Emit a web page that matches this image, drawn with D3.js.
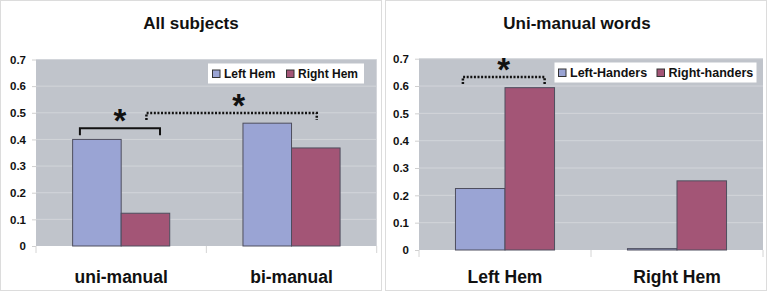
<!DOCTYPE html>
<html>
<head>
<meta charset="utf-8">
<script src="https://cdn.jsdelivr.net/npm/d3@7"></script>
<style>
  body { margin: 0; background: #fff; }
  text { font-family: "Liberation Sans", Arial, sans-serif; font-weight: bold; fill: #111; }
</style>
</head>
<body>
<div id="chart"></div>
<script>
// data
let allCategories = ['uni-manual', 'bi-manual'];
let allSeries = ['Left Hem', 'Right Hem'];
let allValues = [
  [0.40, 0.123],   // uni-manual
  [0.461, 0.368]   // bi-manual
];

let uniCategories = ['Left Hem', 'Right Hem'];
let uniSeries = ['Left-Handers', 'Right-handers'];
let uniValues = [
  [0.225, 0.594],  // Left Hem
  [0.005, 0.253]   // Right Hem
];

let yTicks = [0, 0.1, 0.2, 0.3, 0.4, 0.5, 0.6, 0.7];

// significance brackets: between two bars, at a value level
let allSig = [
  {a: [0, 0], b: [0, 1], level: 0.442, dotted: false},
  {a: [0, 1], b: [1, 1], level: 0.499, dotted: true, mid: true}
];
let uniSig = [
  {a: [0, 0], b: [0, 1], level: 0.633, dotted: true}
];

let colors = ['#9aa4d4', '#a35576'];

let svg = d3.select('#chart')
  .append('svg')
    .attr('width', 768)
    .attr('height', 292);

function drawPanel(p) {
  // panel frame
  svg.append('rect')
    .attr('x', p.frame[0] + 0.5).attr('y', 0.5)
    .attr('width', p.frame[1] - p.frame[0]).attr('height', 290)
    .attr('fill', '#fff')
    .attr('stroke', '#dcdcdc');

  let x = d3.scaleBand()
    .domain(p.categories)
    .range([p.left, p.right])
    .paddingInner(p.pad)
    .paddingOuter(p.pad / 2);

  let xs = d3.scaleBand()
    .domain(d3.range(p.series.length))
    .range([0, x.bandwidth()]);

  let y = d3.scaleLinear()
    .domain([0, 0.7])
    .range([p.bottom, p.top]);

  // plot area
  svg.append('rect')
    .attr('x', p.left).attr('y', p.top)
    .attr('width', p.right - p.left).attr('height', p.bottom - p.top)
    .attr('fill', '#c0c4cb');

  // gridlines
  svg.append('g')
    .selectAll('line')
    .data(yTicks.slice(1))
    .enter()
    .append('line')
      .attr('x1', p.left).attr('x2', p.right)
      .attr('y1', d => y(d)).attr('y2', d => y(d))
      .attr('stroke', '#d2d5da')
      .attr('stroke-width', 1);

  // y axis
  let yAxis = svg.append('g')
    .attr('transform', 'translate(' + p.left + ',0)')
    .call(d3.axisLeft(y).tickValues(yTicks).tickSize(4).tickPadding(6)
      .tickFormat(d => d === 0 ? '0' : d.toFixed(1)));
  yAxis.select('.domain').remove();
  yAxis.selectAll('line').attr('stroke', '#d0d0d0');
  yAxis.selectAll('text')
    .style('font-size', '11.5px')
    .style('font-family', '"Liberation Sans", Arial, sans-serif')
    .style('font-weight', 'bold')
    .attr('fill', '#111');

  // category boundary ticks under the axis
  let bounds = p.categories.map(c => x(c) - x.step() * x.paddingInner() / 2);
  bounds.push(p.right);
  bounds[0] = p.left;
  svg.append('g')
    .selectAll('line')
    .data(bounds)
    .enter()
    .append('line')
      .attr('x1', d => d).attr('x2', d => d)
      .attr('y1', p.bottom).attr('y2', p.bottom + 7)
      .attr('stroke', '#d4d4d4');

  // bars
  svg.append('g')
    .selectAll('g')
    .data(p.values)
    .enter()
    .append('g')
      .attr('transform', (d, i) => 'translate(' + x(p.categories[i]) + ',0)')
    .selectAll('rect')
    .data(d => d)
    .enter()
    .append('rect')
      .attr('x', (d, j) => xs(j))
      .attr('width', xs.bandwidth())
      .attr('y', d => y(d))
      .attr('height', d => y(0) - y(d))
      .attr('fill', (d, j) => colors[j])
      .attr('stroke', '#4e4e5e')
      .attr('stroke-width', 1);

  // category labels
  svg.selectAll('cat_labels')
    .data(p.categories)
    .enter()
    .append('text')
      .attr('x', d => x(d) + x.bandwidth() / 2)
      .attr('y', 283)
      .attr('text-anchor', 'middle')
      .style('font-size', '17.5px')
      .text(d => d);

  // title
  svg.append('text')
    .attr('x', p.titleX)
    .attr('y', 29)
    .attr('text-anchor', 'middle')
    .style('font-size', '17px')
    .text(p.title);

  // legend
  let leg = svg.append('g');
  leg.append('rect')
    .attr('x', p.legend.x).attr('y', p.legend.y)
    .attr('width', p.legend.w).attr('height', 20)
    .attr('fill', '#fff');
  p.series.forEach((s, j) => {
    leg.append('rect')
      .attr('x', p.legend.items[j] + 0.5).attr('y', p.legend.y + 6.5)
      .attr('width', 7.5).attr('height', 7.5)
      .attr('fill', colors[j])
      .attr('stroke', '#333')
      .attr('stroke-width', 1);
    leg.append('text')
      .attr('x', p.legend.items[j] + 12)
      .attr('y', p.legend.y + 14.5)
      .style('font-size', p.legend.font)
      .text(s);
  });

  // significance brackets
  let barX = (ab, f) => x(p.categories[ab[0]]) + xs(ab[1]) + f * xs.bandwidth();
  p.sig.forEach(s => {
    let x1 = s.mid ? barX(s.a, 0.52) : barX(s.a, 0.15);
    let x2 = s.mid ? barX(s.b, 0.52) : barX(s.b, 0.8);
    let yy = y(s.level);
    svg.append('path')
      .attr('d', 'M' + x1 + ',' + (yy + 7) + 'V' + yy + 'H' + x2 + 'V' + (yy + 7))
      .attr('fill', 'none')
      .attr('stroke', '#111')
      .attr('stroke-width', s.dotted ? 2.5 : 2)
      .attr('stroke-dasharray', s.dotted ? '2,1.6' : null);
    svg.append('text')
      .attr('x', (x1 + x2) / 2 + (s.mid ? 7 : 0))
      .attr('y', yy + 4)
      .attr('text-anchor', 'middle')
      .style('font-size', '33px')
      .text('*');
  });
}

drawPanel({
  frame: [0, 381], left: 36, right: 376.7, top: 59.5, bottom: 246, pad: 0.43,
  categories: allCategories, series: allSeries, values: allValues,
  title: 'All subjects', titleX: 191,
  legend: {x: 208, y: 63.5, w: 156, items: [212, 286], font: '12px'},
  sig: allSig
});

drawPanel({
  frame: [385, 766], left: 419, right: 763, top: 58.7, bottom: 250, pad: 0.424,
  categories: uniCategories, series: uniSeries, values: uniValues,
  title: 'Uni-manual words', titleX: 577,
  legend: {x: 554.5, y: 62.5, w: 202, items: [558, 656.5], font: '12.5px'},
  sig: uniSig
});
</script>
</body>
</html>
